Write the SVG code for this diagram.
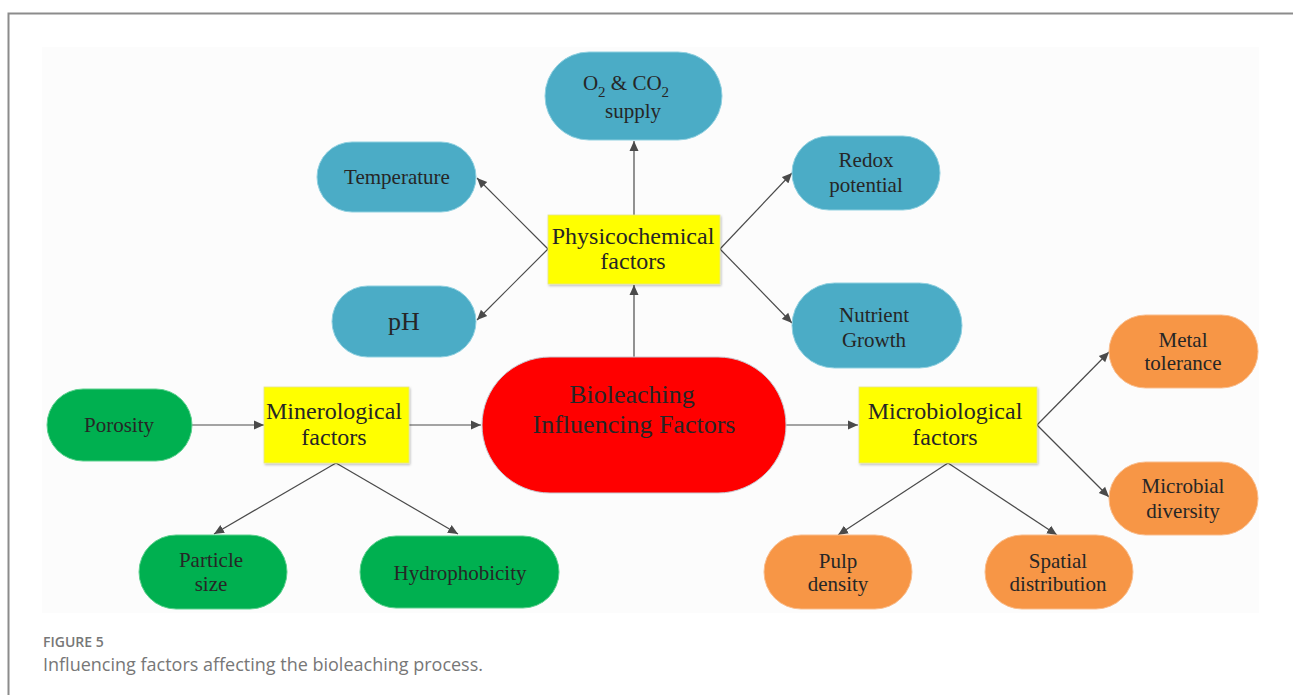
<svg xmlns="http://www.w3.org/2000/svg" width="1293" height="695" viewBox="0 0 1293 695">
<defs>
<marker id="ah" viewBox="0 0 10 10" refX="10" refY="5" markerWidth="10" markerHeight="10" markerUnits="userSpaceOnUse" orient="auto">
<path d="M0,0.5 L10,5 L0,9.5 z" fill="#4a4a4a"/>
</marker>
<filter id="sh" x="-10%" y="-10%" width="120%" height="130%">
<feDropShadow dx="1" dy="1.5" stdDeviation="1.2" flood-color="#000" flood-opacity="0.25"/>
</filter>
</defs>
<style>
.t{font-family:"Liberation Serif","Times New Roman",serif;fill:#262626;text-anchor:middle}
.s{font-size:21px}
.m{font-size:24px}
.l{font-size:26px}
.blue{fill:#4bacc6;stroke:#8fd0e0;stroke-width:1}
.green{fill:#00b050;stroke:#5cd08e;stroke-width:1}
.orange{fill:#f79646;stroke:#f9bd8d;stroke-width:1}
.yel{fill:#ffff00;stroke:#e6e68a;stroke-width:0.8;filter:url(#sh)}
.c line{stroke:#4a4a4a;stroke-width:1.2;marker-end:url(#ah)}
</style>
<rect x="0" y="0" width="1293" height="695" fill="#ffffff"/>
<path d="M8.5,695 V13.5 H1293" fill="none" stroke="#8c8c8c" stroke-width="2"/>
<rect x="42" y="47" width="1217" height="566" fill="#fcfcfc"/>

<g class="c" id="connectors">
<line x1="634" y1="215" x2="634" y2="141"/>
<line x1="634" y1="357" x2="634" y2="285"/>
<line x1="548" y1="249" x2="477" y2="178"/>
<line x1="548" y1="249" x2="477" y2="320"/>
<line x1="720" y1="249" x2="792" y2="173"/>
<line x1="720" y1="249" x2="792" y2="323"/>
<line x1="192" y1="425" x2="264" y2="425"/>
<line x1="409" y1="425" x2="481" y2="425"/>
<line x1="336" y1="463" x2="214" y2="534"/>
<line x1="336" y1="463" x2="458" y2="534"/>
<line x1="786" y1="425" x2="858" y2="425"/>
<line x1="948" y1="463" x2="838" y2="535"/>
<line x1="948" y1="463" x2="1057" y2="535"/>
<line x1="1037" y1="425" x2="1109" y2="352"/>
<line x1="1037" y1="425" x2="1109" y2="497"/>
</g>

<g id="o2">
<rect class="blue" x="545" y="52" width="177" height="88" rx="44"/>
<text class="t s" x="626" y="90">O<tspan dy="7" font-size="15">2</tspan><tspan dy="-7"> &amp; CO</tspan><tspan dy="7" font-size="15">2</tspan></text>
<text class="t s" x="633" y="118">supply</text>
</g>
<g id="temperature">
<rect class="blue" x="317" y="142" width="159" height="70" rx="35"/>
<text class="t s" x="397" y="184">Temperature</text>
</g>
<g id="redox">
<rect class="blue" x="792" y="136" width="148" height="74" rx="37"/>
<text class="t s" x="866" y="167">Redox</text>
<text class="t s" x="866" y="192">potential</text>
</g>
<g id="ph">
<rect class="blue" x="332" y="286" width="144" height="71" rx="35.5"/>
<text class="t l" x="404" y="330">pH</text>
</g>
<g id="nutrient">
<rect class="blue" x="792" y="283" width="170" height="85" rx="42.5"/>
<text class="t s" x="874" y="322">Nutrient</text>
<text class="t s" x="874" y="347">Growth</text>
</g>
<g id="physicochemical">
<rect class="yel" x="548" y="215" width="172" height="69"/>
<text class="t m" x="633" y="244">Physicochemical</text>
<text class="t m" x="633" y="269">factors</text>
</g>
<g id="bioleaching">
<rect x="482" y="357" width="304" height="136" rx="68" fill="#ff0000" stroke="#c8c8d0" stroke-width="1"/>
<text class="t l" x="632" y="403">Bioleaching</text>
<text class="t l" x="634" y="433">Influencing Factors</text>
</g>
<g id="porosity">
<rect class="green" x="47" y="389" width="145" height="72" rx="36"/>
<text class="t s" x="119" y="432">Porosity</text>
</g>
<g id="minerological">
<rect class="yel" x="264" y="387" width="145" height="76"/>
<text class="t m" x="334" y="419">Minerological</text>
<text class="t m" x="334" y="445">factors</text>
</g>
<g id="particle">
<rect class="green" x="139" y="535" width="148" height="74" rx="37"/>
<text class="t s" x="211" y="567">Particle</text>
<text class="t s" x="211" y="591">size</text>
</g>
<g id="hydrophobicity">
<rect class="green" x="360" y="536" width="199" height="72" rx="36"/>
<text class="t s" x="460" y="580">Hydrophobicity</text>
</g>
<g id="microbiological">
<rect class="yel" x="859" y="387" width="178" height="76"/>
<text class="t m" x="945" y="419">Microbiological</text>
<text class="t m" x="945" y="445">factors</text>
</g>
<g id="pulp">
<rect class="orange" x="764" y="535" width="148" height="74" rx="37"/>
<text class="t s" x="838" y="568">Pulp</text>
<text class="t s" x="838" y="591">density</text>
</g>
<g id="spatial">
<rect class="orange" x="985" y="535" width="148" height="74" rx="37"/>
<text class="t s" x="1058" y="568">Spatial</text>
<text class="t s" x="1058" y="591">distribution</text>
</g>
<g id="metal">
<rect class="orange" x="1109" y="315" width="149" height="73" rx="36.5"/>
<text class="t s" x="1183" y="347">Metal</text>
<text class="t s" x="1183" y="370">tolerance</text>
</g>
<g id="microbial">
<rect class="orange" x="1109" y="462" width="149" height="73" rx="36.5"/>
<text class="t s" x="1183" y="493">Microbial</text>
<text class="t s" x="1183" y="518">diversity</text>
</g>

<text x="43" y="647" font-family="'Open Sans','Noto Sans',sans-serif" font-size="14" font-weight="600" fill="#777777">FIGURE 5</text>
<text x="43" y="671" font-family="'Open Sans','Noto Sans',sans-serif" font-size="18" fill="#777777" textLength="440" lengthAdjust="spacingAndGlyphs">Influencing factors affecting the bioleaching process.</text>
</svg>
